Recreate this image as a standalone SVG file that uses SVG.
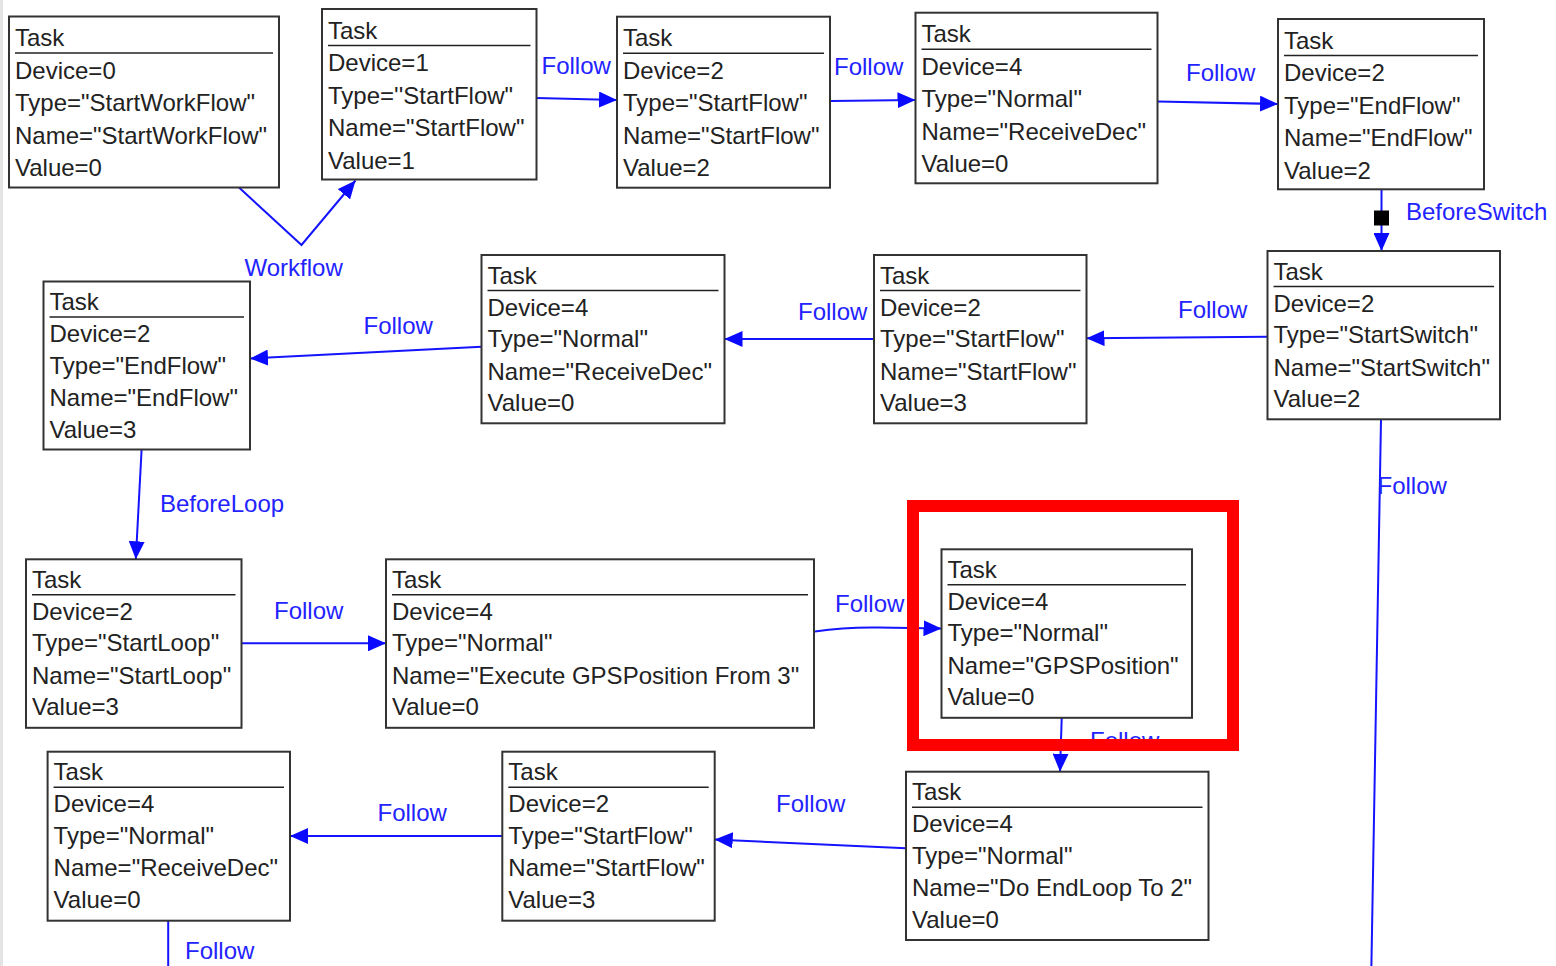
<svg xmlns="http://www.w3.org/2000/svg" width="1556" height="966" viewBox="0 0 1556 966">
  <style>
    .box { fill: #ffffff; stroke: #333333; stroke-width: 2; }
    .sep { stroke: #222222; stroke-width: 1.6; }
    .txt { font-family: "Liberation Sans", Arial, sans-serif; font-size: 24px; fill: #222222; }
    .edge { fill: none; stroke: #1414ff; stroke-width: 2; }
    .lbl { font-family: "Liberation Sans", Arial, sans-serif; font-size: 24px; fill: #2323ff; }
    .hl { fill: none; stroke: #ff0000; stroke-width: 12; }
  </style>
  <defs>
    <marker id="arrow" markerUnits="userSpaceOnUse" markerWidth="18" markerHeight="16" viewBox="0 0 18 16" refX="18" refY="8" orient="auto">
      <path d="M0,0 L18,8 L0,16 z" fill="#0a0aff"/>
    </marker>
  </defs>

  <rect x="0" y="0" width="1556" height="966" fill="#ffffff"/>
  <rect x="0" y="0" width="3" height="966" fill="#e4e4e4"/>

  <!-- connectors -->
  <g id="connectors">
    <polyline class="edge" points="239,187.5 301.5,245 355.5,180.5" marker-end="url(#arrow)"/>
    <text class="lbl" x="244.5" y="276">Workflow</text>

    <path class="edge" d="M536.5,98 L617,100" marker-end="url(#arrow)"/>
    <text class="lbl" x="541.5" y="73.5">Follow</text>

    <path class="edge" d="M831,101 L915.5,100" marker-end="url(#arrow)"/>
    <text class="lbl" x="834" y="75">Follow</text>

    <path class="edge" d="M1158,101.5 L1278,104" marker-end="url(#arrow)"/>
    <text class="lbl" x="1186" y="81">Follow</text>

    <path class="edge" d="M1381.5,189.5 L1381.5,251" marker-end="url(#arrow)"/>
    <rect x="1374" y="210.5" width="15" height="15" fill="#000000"/>
    <text class="lbl" x="1406" y="220">BeforeSwitch</text>

    <path class="edge" d="M1267.5,336.7 L1086.5,338.3" marker-end="url(#arrow)"/>
    <text class="lbl" x="1178" y="318">Follow</text>

    <path class="edge" d="M874,339 L724.5,339" marker-end="url(#arrow)"/>
    <text class="lbl" x="798" y="320">Follow</text>

    <path class="edge" d="M481.5,346.7 L250,358.5" marker-end="url(#arrow)"/>
    <text class="lbl" x="363.5" y="333.5">Follow</text>

    <path class="edge" d="M141.6,449.5 L135.8,559.3" marker-end="url(#arrow)"/>
    <text class="lbl" x="160" y="512">BeforeLoop</text>

    <path class="edge" d="M241.5,643.3 L386,643.3" marker-end="url(#arrow)"/>
    <text class="lbl" x="274" y="618.5">Follow</text>

    <path class="edge" d="M815,631.5 Q845,627 878,627.5 L941.5,628.5" marker-end="url(#arrow)"/>
    <text class="lbl" x="835" y="612">Follow</text>

    <path class="edge" d="M1061.7,718 L1060,771.7" marker-end="url(#arrow)"/>
    <text class="lbl" x="1090" y="749">Follow</text>

    <path class="edge" d="M906,848.3 L714.7,839.5" marker-end="url(#arrow)"/>
    <text class="lbl" x="776" y="812">Follow</text>

    <path class="edge" d="M502.3,836 L290,836" marker-end="url(#arrow)"/>
    <text class="lbl" x="377.5" y="820.5">Follow</text>

    <path class="edge" d="M168.2,920.7 L168.2,966"/>
    <text class="lbl" x="185" y="958.5">Follow</text>

    <path class="edge" d="M1381,419.3 L1371.4,966"/>
    <text class="lbl" x="1377.5" y="494">Follow</text>
  </g>

  <!-- task nodes: top row -->
  <g id="task-startworkflow" transform="translate(9,16.5)">
    <rect class="box" width="270" height="171"/>
    <line class="sep" x1="6" y1="36.5" x2="264" y2="36.5"/>
    <text class="txt" x="6" y="29.5">Task</text>
    <text class="txt" x="6" y="62">Device=0</text>
    <text class="txt" x="6" y="94.5">Type="StartWorkFlow"</text>
    <text class="txt" x="6" y="127">Name="StartWorkFlow"</text>
    <text class="txt" x="6" y="159.5">Value=0</text>
  </g>

  <g id="task-startflow-1" transform="translate(322,9)">
    <rect class="box" width="214.5" height="170.5"/>
    <line class="sep" x1="6" y1="36.5" x2="208.5" y2="36.5"/>
    <text class="txt" x="6" y="29.5">Task</text>
    <text class="txt" x="6" y="62">Device=1</text>
    <text class="txt" x="6" y="94.5">Type=''StartFlow"</text>
    <text class="txt" x="6" y="127">Name="StartFlow"</text>
    <text class="txt" x="6" y="159.5">Value=1</text>
  </g>

  <g id="task-startflow-2" transform="translate(617,16.7)">
    <rect class="box" width="213" height="171"/>
    <line class="sep" x1="6" y1="36.5" x2="207" y2="36.5"/>
    <text class="txt" x="6" y="29.5">Task</text>
    <text class="txt" x="6" y="62">Device=2</text>
    <text class="txt" x="6" y="94.5">Type="StartFlow"</text>
    <text class="txt" x="6" y="127">Name="StartFlow"</text>
    <text class="txt" x="6" y="159.5">Value=2</text>
  </g>

  <g id="task-receivedec-1" transform="translate(915.5,12.7)">
    <rect class="box" width="242" height="170.6"/>
    <line class="sep" x1="6" y1="36.5" x2="236" y2="36.5"/>
    <text class="txt" x="6" y="29.5">Task</text>
    <text class="txt" x="6" y="62">Device=4</text>
    <text class="txt" x="6" y="94.5">Type="Normal"</text>
    <text class="txt" x="6" y="127">Name="ReceiveDec"</text>
    <text class="txt" x="6" y="159.5">Value=0</text>
  </g>

  <g id="task-endflow-2" transform="translate(1278,19)">
    <rect class="box" width="206" height="170.3"/>
    <line class="sep" x1="6" y1="36.5" x2="200" y2="36.5"/>
    <text class="txt" x="6" y="29.5">Task</text>
    <text class="txt" x="6" y="62">Device=2</text>
    <text class="txt" x="6" y="94.5">Type="EndFlow"</text>
    <text class="txt" x="6" y="127">Name="EndFlow"</text>
    <text class="txt" x="6" y="159.5">Value=2</text>
  </g>

  <!-- task nodes: second row -->
  <g id="task-startswitch" transform="translate(1267.5,251)">
    <rect class="box" width="232.5" height="168.3"/>
    <line class="sep" x1="6" y1="35.5" x2="226.5" y2="35.5"/>
    <text class="txt" x="6" y="28.5">Task</text>
    <text class="txt" x="6" y="60.5">Device=2</text>
    <text class="txt" x="6" y="92">Type="StartSwitch"</text>
    <text class="txt" x="6" y="124.5">Name="StartSwitch"</text>
    <text class="txt" x="6" y="156">Value=2</text>
  </g>

  <g id="task-startflow-3" transform="translate(874,255)">
    <rect class="box" width="212.5" height="168.3"/>
    <line class="sep" x1="6" y1="35.5" x2="206.5" y2="35.5"/>
    <text class="txt" x="6" y="28.5">Task</text>
    <text class="txt" x="6" y="60.5">Device=2</text>
    <text class="txt" x="6" y="92">Type="StartFlow"</text>
    <text class="txt" x="6" y="124.5">Name="StartFlow"</text>
    <text class="txt" x="6" y="156">Value=3</text>
  </g>

  <g id="task-receivedec-2" transform="translate(481.5,255)">
    <rect class="box" width="243" height="168.3"/>
    <line class="sep" x1="6" y1="35.5" x2="237" y2="35.5"/>
    <text class="txt" x="6" y="28.5">Task</text>
    <text class="txt" x="6" y="60.5">Device=4</text>
    <text class="txt" x="6" y="92">Type="Normal"</text>
    <text class="txt" x="6" y="124.5">Name="ReceiveDec"</text>
    <text class="txt" x="6" y="156">Value=0</text>
  </g>

  <g id="task-endflow-3" transform="translate(43.5,281.5)">
    <rect class="box" width="206.5" height="168"/>
    <line class="sep" x1="6" y1="35.5" x2="200.5" y2="35.5"/>
    <text class="txt" x="6" y="28.5">Task</text>
    <text class="txt" x="6" y="60.5">Device=2</text>
    <text class="txt" x="6" y="92">Type="EndFlow"</text>
    <text class="txt" x="6" y="124.5">Name="EndFlow"</text>
    <text class="txt" x="6" y="156">Value=3</text>
  </g>

  <!-- task nodes: loop section -->
  <g id="task-startloop" transform="translate(26,559.3)">
    <rect class="box" width="215.5" height="168.5"/>
    <line class="sep" x1="6" y1="35.5" x2="209.5" y2="35.5"/>
    <text class="txt" x="6" y="28.5">Task</text>
    <text class="txt" x="6" y="60.5">Device=2</text>
    <text class="txt" x="6" y="92">Type="StartLoop"</text>
    <text class="txt" x="6" y="124.5">Name="StartLoop"</text>
    <text class="txt" x="6" y="156">Value=3</text>
  </g>

  <g id="task-execute-gps" transform="translate(386,559.3)">
    <rect class="box" width="428" height="168.5"/>
    <line class="sep" x1="6" y1="35.5" x2="422" y2="35.5"/>
    <text class="txt" x="6" y="28.5">Task</text>
    <text class="txt" x="6" y="60.5">Device=4</text>
    <text class="txt" x="6" y="92">Type="Normal"</text>
    <text class="txt" x="6" y="124.5">Name="Execute GPSPosition From 3"</text>
    <text class="txt" x="6" y="156">Value=0</text>
  </g>

  <g id="task-gpsposition" transform="translate(941.5,549.3)">
    <rect class="box" width="250.5" height="168.5"/>
    <line class="sep" x1="6" y1="35.5" x2="244.5" y2="35.5"/>
    <text class="txt" x="6" y="28.5">Task</text>
    <text class="txt" x="6" y="60.5">Device=4</text>
    <text class="txt" x="6" y="92">Type="Normal"</text>
    <text class="txt" x="6" y="124.5">Name="GPSPosition"</text>
    <text class="txt" x="6" y="156">Value=0</text>
  </g>

  <!-- task nodes: bottom row -->
  <g id="task-endloop" transform="translate(906,771.7)">
    <rect class="box" width="302.5" height="168.3"/>
    <line class="sep" x1="6" y1="35.5" x2="296.5" y2="35.5"/>
    <text class="txt" x="6" y="28.5">Task</text>
    <text class="txt" x="6" y="60.5">Device=4</text>
    <text class="txt" x="6" y="92">Type="Normal"</text>
    <text class="txt" x="6" y="124.5">Name="Do EndLoop To 2"</text>
    <text class="txt" x="6" y="156">Value=0</text>
  </g>

  <g id="task-startflow-4" transform="translate(502.3,751.7)">
    <rect class="box" width="212.4" height="169"/>
    <line class="sep" x1="6" y1="35.5" x2="206.4" y2="35.5"/>
    <text class="txt" x="6" y="28.5">Task</text>
    <text class="txt" x="6" y="60.5">Device=2</text>
    <text class="txt" x="6" y="92">Type="StartFlow"</text>
    <text class="txt" x="6" y="124.5">Name="StartFlow"</text>
    <text class="txt" x="6" y="156">Value=3</text>
  </g>

  <g id="task-receivedec-3" transform="translate(47.6,751.7)">
    <rect class="box" width="242.4" height="169"/>
    <line class="sep" x1="6" y1="35.5" x2="236.4" y2="35.5"/>
    <text class="txt" x="6" y="28.5">Task</text>
    <text class="txt" x="6" y="60.5">Device=4</text>
    <text class="txt" x="6" y="92">Type="Normal"</text>
    <text class="txt" x="6" y="124.5">Name="ReceiveDec"</text>
    <text class="txt" x="6" y="156">Value=0</text>
  </g>

  <!-- highlight frame around the GPSPosition task -->
  <rect id="highlight" class="hl" x="913" y="506" width="320" height="239"/>
</svg>
